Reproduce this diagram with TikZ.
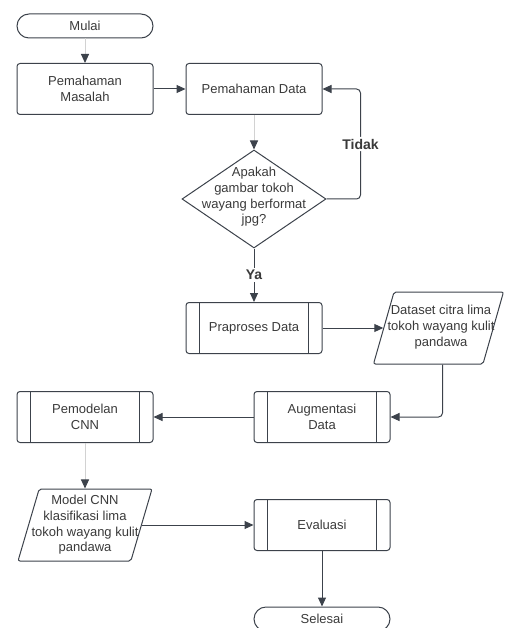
\documentclass[tikz,border=0pt]{standalone}
\usepackage{fontspec}
\setmainfont{Liberation Sans}
\usetikzlibrary{shapes.geometric,shapes.misc,arrows.meta}

\definecolor{ln}{HTML}{3C424B}   % dark outline colour
\definecolor{lt}{HTML}{D2D2D2}   % light connector colour
\definecolor{tx}{HTML}{3A3A3A}   % text colour

\begin{document}
\begin{tikzpicture}[x=1pt,y=-1pt,font=\fontsize{13}{15.7}\selectfont,text=tx]

% Define dimensions
\def\bw{136}     % Width of the boxes
\def\bh{51}      % Height of the process boxes
\def\gap{14}     % Inset of the side lines on the sub-process boxes

% Shapes
\tikzstyle{term}=[draw=ln, line width=1pt, rounded rectangle, minimum width=\bw pt, minimum height=24pt, inner sep=0pt]
\tikzstyle{proc}=[draw=ln, line width=1pt, rounded corners=3pt, minimum width=\bw pt, minimum height=\bh pt, align=center, inner sep=0pt]
\tikzstyle{decision}=[draw=ln, line width=1pt, diamond, minimum width=144pt, minimum height=98pt, inner sep=0pt]
\tikzstyle{io}=[draw=ln, line width=1pt, trapezium, trapezium left angle=77, trapezium right angle=103, trapezium stretches=true, rounded corners=2pt, minimum width=130pt, minimum height=72pt, inner sep=1pt]
\tikzstyle{txt}=[align=center, inner sep=0pt]

% Connectors
\tikzstyle{conn}=[draw=ln, line width=1pt, -{Triangle[length=9pt,width=8pt,color=ln]}]
\tikzstyle{lconn}=[draw=lt, line width=1pt, -{Triangle[length=9pt,width=8pt,color=ln]}]
\tikzstyle{lbl}=[fill=white, font=\fontsize{14}{16}\selectfont\bfseries, inner sep=2pt]

\useasboundingbox (0,0) rectangle (504,628);

% Boxes
\node[term] (start) at (85,26) {Mulai};
\node[proc] (masalah) at (85,89) {Pemahaman\\Masalah};
\node[proc] (pdata) at (254,89) {Pemahaman Data};
\node[decision] (cek) at (254,199) {};
\node[txt] (cektxt) at (254,197) {Apakah\\gambar tokoh\\wayang berformat\\jpg?};
\node[proc] (prep) at (254,328) {Praproses Data};
\node[io] (dataset) at (438.5,328) {};
\node[txt] (datasettxt) at (441,327) {Dataset citra lima\\tokoh wayang kulit\\pandawa};
\node[proc] (aug) at (322,417) {Augmentasi\\Data};
\node[proc] (cnn) at (85,417) {Pemodelan\\CNN};
\node[io, minimum width=134pt] (model) at (85,525) {};
\node[txt] (modeltxt) at (85,525) {Model CNN\\klasifikasi lima\\tokoh wayang kulit\\pandawa};
\node[proc] (eval) at (322,525) {Evaluasi};
\node[term] (end) at (322,619) {Selesai};

% Side lines of the sub-process boxes
\foreach \n in {prep,aug,cnn,eval} {
  \draw[ln, line width=0.6pt] ([xshift=\gap pt]\n.north west) -- ([xshift=\gap pt]\n.south west);
  \draw[ln, line width=0.6pt] ([xshift=-\gap pt]\n.north east) -- ([xshift=-\gap pt]\n.south east);
}

% Flow
\draw[lconn] (start) -- (masalah);
\draw[conn] (masalah) -- (pdata);
\draw[lconn] (pdata) -- (cek);
\draw[conn, rounded corners=4pt] (cek.east) -- ++(34,0) |- (pdata.east) node[lbl, pos=0.25] {Tidak};
\draw[conn] (cek) -- node[lbl] {Ya} (prep);
\draw[conn] (prep) -- (dataset);
\draw[conn, rounded corners=4pt] ([xshift=4pt]dataset.south) |- (aug);
\draw[conn] (aug) -- (cnn);
\draw[lconn] (cnn) -- (model);
\draw[conn] (model) -- (eval);
\draw[conn] (eval) -- (end);

\end{tikzpicture}
\end{document}
